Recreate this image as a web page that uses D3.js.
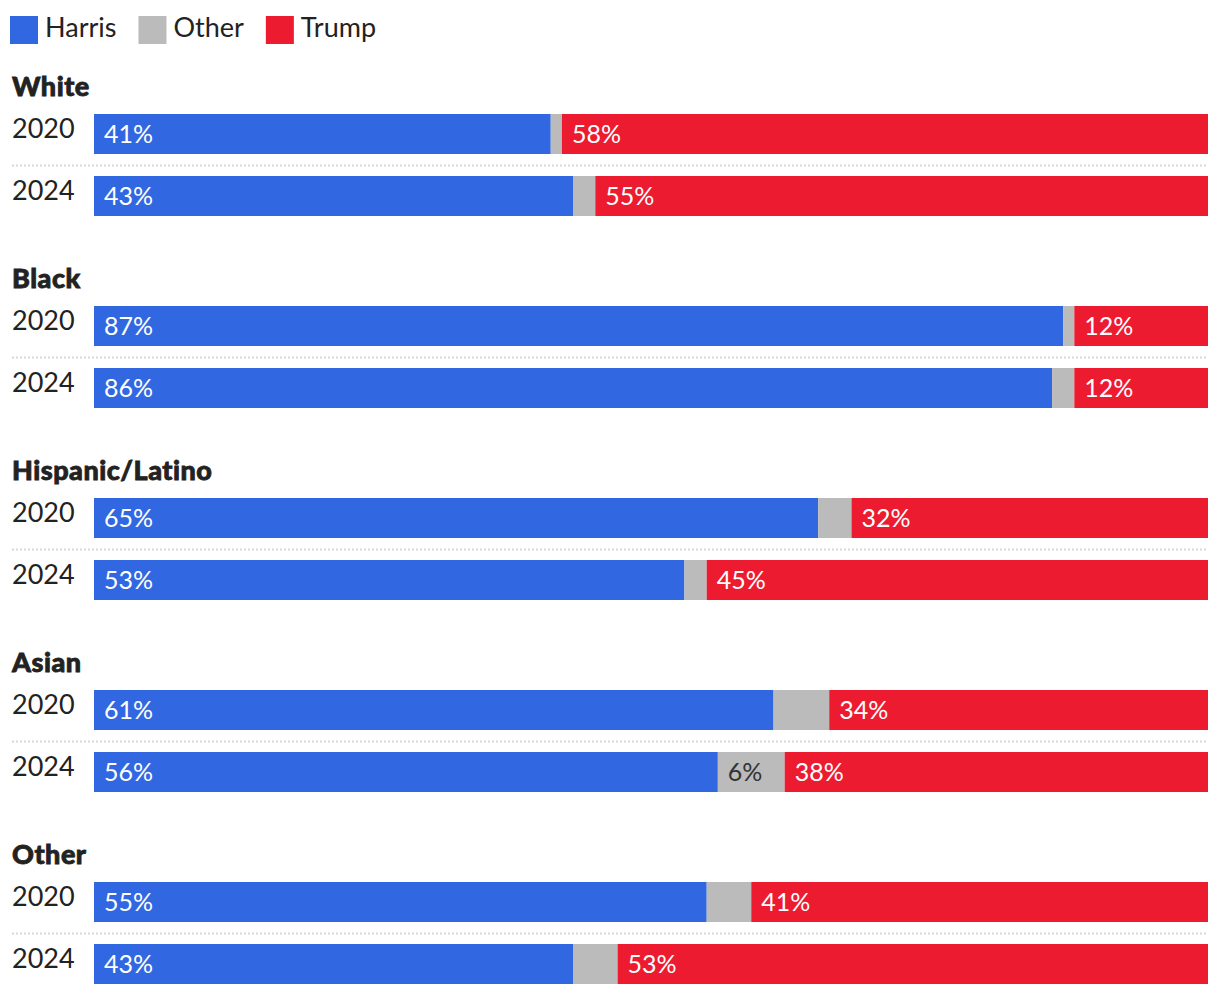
<!DOCTYPE html>
<html><head><meta charset="utf-8">
<script src="https://cdn.jsdelivr.net/npm/d3@7"></script>
<style>body{margin:0;background:#fff;} svg{display:block;font-family:Lato, "Noto Sans", sans-serif;}</style>
</head><body><svg id="c" width="1220" height="994"></svg>
<script>
const groups = ["White","Black","Hispanic/Latino","Asian","Other"];
const years = ["2020","2024"];
const harris = [[41,43],[87,86],[65,53],[61,56],[55,43]];
const other  = [[1,2],[1,2],[3,2],[5,6],[4,4]];
const trump  = [[58,55],[12,12],[32,45],[34,38],[41,53]];
const seriesNames = ["Harris","Other","Trump"];
const colors = {Harris:"#3168e2", Other:"#bbbbbb", Trump:"#ec1b30"};
const labelColors = {Harris:"#fff", Other:"#333", Trump:"#fff"};

const svg = d3.select("#c");
const x = d3.scaleLinear().domain([0,100]).range([94,1208]);
const gY = d3.scaleBand().domain(groups).range([50,50+192*groups.length]).paddingInner(0).paddingOuter(0);
const rY = d3.scaleBand().domain(years).range([64,188]).paddingInner(0);

// legend
let lx = 10;
const leg = svg.append("g");
seriesNames.forEach(n=>{
  const g = leg.append("g").attr("transform",`translate(${lx},16)`);
  g.append("rect").attr("width",28).attr("height",28).attr("fill",colors[n]);
  const t = g.append("text").attr("x",35).attr("y",21).attr("font-size",27).attr("fill","#222").text(n);
  lx += 35 + t.node().getComputedTextLength() + 22;
});

groups.forEach((grp,gi)=>{
  const g = svg.append("g").attr("transform",`translate(0,${gY(grp)})`);
  g.append("text").attr("x",12).attr("y",46).attr("font-size",27).attr("font-weight",900)
    .attr("letter-spacing",0.5)
    .attr("fill","#222").attr("stroke","#222").attr("stroke-width",0.8).text(grp);
  // dotted separator
  g.append("line").attr("x1",12).attr("x2",1208).attr("y1",115.5).attr("y2",115.5)
    .attr("stroke","#d8d8d8").attr("stroke-width",2).attr("stroke-dasharray","2,2");
  years.forEach((yr,yi)=>{
    const y0 = rY(yr);
    const vals = {Harris:harris[gi][yi], Other:other[gi][yi], Trump:trump[gi][yi]};
    g.append("text").attr("x",12).attr("y",y0+24).attr("font-size",27).attr("fill","#222").text(yr);
    let acc = 0;
    const stack = seriesNames.map(n=>{const s={n,v:vals[n],a:acc}; acc+=vals[n]; return s;});
    stack.forEach((s,i)=>{
      const x0 = x(s.a), x1 = (i===stack.length-1)? x(100) : x(s.a+s.v);
      g.append("rect").attr("x",x0).attr("y",y0).attr("width",x1-x0).attr("height",40).attr("fill",colors[s.n]);
      if (s.n!=="Other" || s.v>=6) {
        g.append("text").attr("x",x0+10).attr("y",y0+29).attr("font-size",25)
          .attr("fill",labelColors[s.n]).text(s.v+"%");
      }
    });
  });
});
</script></body></html>
